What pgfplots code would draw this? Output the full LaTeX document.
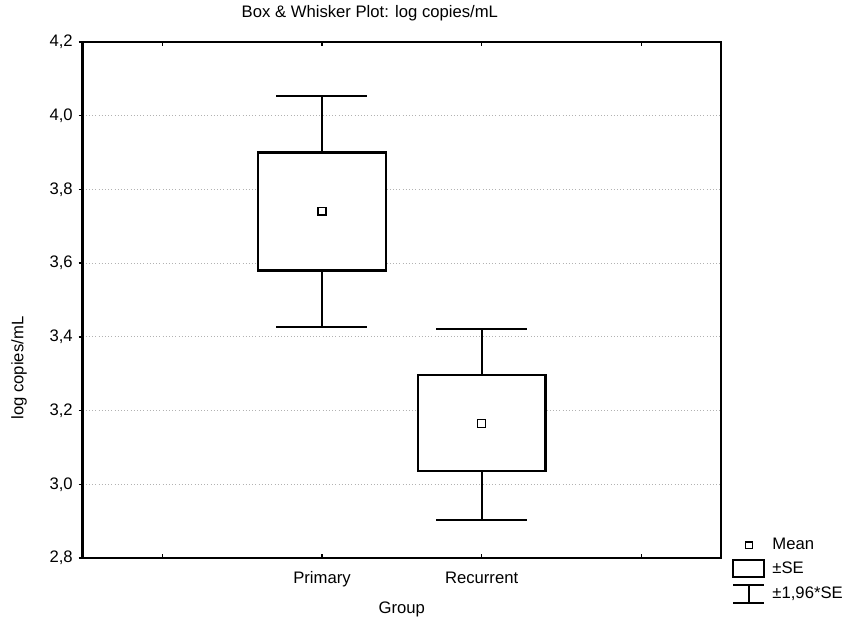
\documentclass[border=0pt]{standalone}
\usepackage{fontspec}
\setmainfont{Liberation Sans}
\usepackage{pgfplots}
\pgfplotsset{compat=1.18}
\begin{document}
\fontsize{12.5}{15}\selectfont
\begin{tikzpicture}
\useasboundingbox (-61.9pt,-46.5pt) rectangle (571.1pt,418.5pt);
\begin{axis}[
  at={(0pt,0pt)}, anchor=south west,
  scale only axis, width=478.9pt, height=387pt,
  xmin=-0.5, xmax=3.5, ymin=2.8, ymax=4.2,
  xtick={0,1,2,3}, xticklabels={,Primary,Recurrent,},
  ytick={2.8,3.0,3.2,3.4,3.6,3.8,4.0,4.2},
  xtick pos=both, ytick pos=left,
  xtick align=inside, ytick align=outside,
  major tick length=3pt,
  tick style={black, line width=1pt},
  axis line style={line width=1.7pt},
  ymajorgrids,
  grid style={dotted, black!30, line width=0.7pt},
  /pgf/number format/assume math mode=true,
  yticklabel style={/pgf/number format/.cd, fixed, fixed zerofill, precision=1, use comma},
  xticklabel style={yshift=-6pt},
  title={Box \& Whisker Plot: log copies/mL},
  title style={at={(axis description cs:0.45,1)}, anchor=base, yshift=12pt},
  ylabel={log copies/mL},
  ylabel style={at={(axis description cs:-0.0995,0.368)}, anchor=center},
  xlabel={Group},
  xlabel style={at={(axis description cs:0.5,0)}, anchor=base, yshift=-42pt},
  legend style={at={(axis description cs:1.0172,0.040)}, anchor=north west,
    draw=none, fill=none, inner sep=0pt, row sep=4.5pt, column sep=5pt,
    nodes={inner sep=0.5pt}},
  legend cell align=left,
  every axis plot/.append style={forget plot},
]
% Primary: whiskers (+-1.96 SE), box (+-SE)
\addplot[black, line width=1.6pt] coordinates {(1,3.900) (1,4.053)};
\addplot[black, line width=1.6pt] coordinates {(0.715,4.053) (1.285,4.053)};
\addplot[black, line width=1.6pt] coordinates {(1,3.580) (1,3.427)};
\addplot[black, line width=1.6pt] coordinates {(0.715,3.427) (1.285,3.427)};
\addplot[black, line width=1.6pt, fill=white] coordinates {(0.6,3.580) (1.4,3.580) (1.4,3.900) (0.6,3.900)} -- cycle;
% Recurrent
\addplot[black, line width=1.6pt] coordinates {(2,3.296) (2,3.422)};
\addplot[black, line width=1.6pt] coordinates {(1.715,3.422) (2.285,3.422)};
\addplot[black, line width=1.6pt] coordinates {(2,3.036) (2,2.904)};
\addplot[black, line width=1.6pt] coordinates {(1.715,2.904) (2.285,2.904)};
\addplot[black, line width=1.6pt, fill=white] coordinates {(1.6,3.036) (2.4,3.036) (2.4,3.296) (1.6,3.296)} -- cycle;
% Means
\addplot[only marks, mark=square*, mark size=2.9pt,
  mark options={fill=white, draw=black, line width=1.1pt}]
  coordinates {(1,3.741) (2,3.165)};
\addlegendimage{legend image code/.code={\draw[black, line width=1.1pt, fill=white] (9pt,-2.6pt) rectangle (14.2pt,2.6pt);}}
\addlegendentry{Mean}
\addlegendimage{legend image code/.code={\draw[black, line width=1.6pt] (0pt,-6.4pt) rectangle (23pt,6.4pt);}}
\addlegendentry{±SE}
\addlegendimage{legend image code/.code={\draw[black, line width=1.6pt] (0pt,6.75pt) -- (23pt,6.75pt) (0pt,-6.75pt) -- (23pt,-6.75pt) (11.5pt,6.75pt) -- (11.5pt,-6.75pt);}}
\addlegendentry{±1,96*SE}
\end{axis}
\end{tikzpicture}
\end{document}
